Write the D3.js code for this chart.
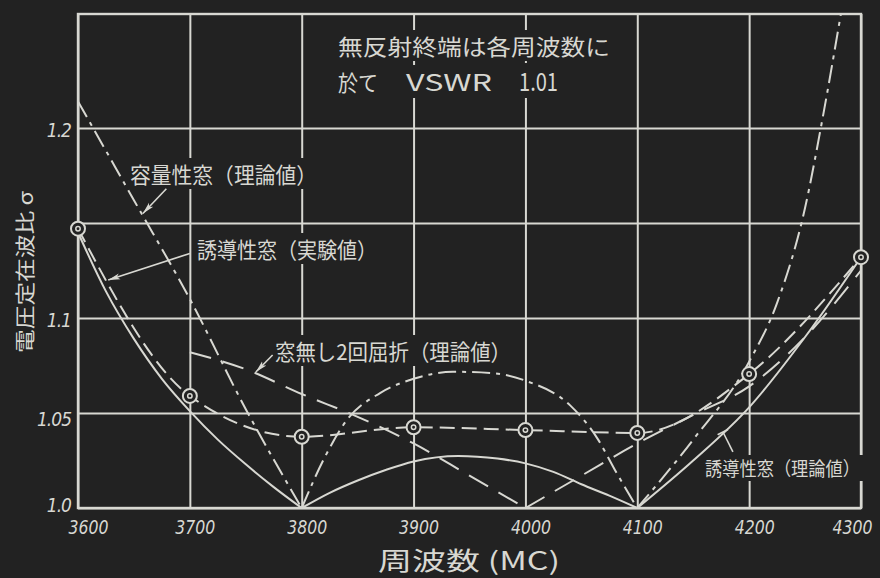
<!DOCTYPE html>
<html>
<head>
<meta charset="utf-8">
<script src="https://cdn.jsdelivr.net/npm/d3@7"></script>
<style>
  html, body { margin: 0; padding: 0; background: #222; }
  svg { display: block; }
</style>
</head>
<body>
<svg id="chart" width="880" height="578"></svg>
<script>
// ---- axes ----
const freqTicks = [3600, 3700, 3800, 3900, 4000, 4100, 4200, 4300];
const vswrGrid = [1.0, 1.05, 1.1, 1.15, 1.2];
const vswrLabels = { 1.0: "1.0", 1.05: "1.05", 1.1: "1.1", 1.2: "1.2" };

// ---- 誘導性窓 (実験値): measured points ----
const measuredFreq = [3600, 3700, 3800, 3900, 4000, 4100, 4200, 4300];
const measuredVswr = [1.147, 1.059, 1.0375, 1.0425, 1.041, 1.0395, 1.0705, 1.132];

// ---- 誘導性窓 (理論値) ----
const inductiveFreq = [3600, 3625, 3650, 3675, 3700, 3725, 3750, 3775, 3800,
  3825, 3850, 3875, 3900, 3940, 3975, 4000, 4025, 4050, 4075, 4100,
  4150, 4200, 4250, 4300];
const inductiveVswr = [1.145, 1.114, 1.089, 1.068, 1.051, 1.036, 1.023, 1.011, 1.0,
  1.008, 1.0145, 1.02, 1.0245, 1.0274, 1.026, 1.0235, 1.019, 1.0125, 1.0065, 1.0,
  1.025, 1.053, 1.09, 1.132];

// ---- 容量性窓 (理論値) ----
const capacitiveFreq = [3600, 3650, 3700, 3750, 3800,
  3820, 3840, 3870, 3900, 3935, 3970, 4000, 4040, 4065, 4080, 4100,
  4150, 4200, 4225, 4250, 4265, 4282];
const capacitiveVswr = [1.214, 1.162, 1.11, 1.052, 1.0,
  1.026, 1.046, 1.0605, 1.068, 1.0717, 1.071, 1.067, 1.054, 1.036, 1.02, 1.0,
  1.036, 1.077, 1.108, 1.158, 1.203, 1.26];

// ---- 窓無し2回屈折 (理論値) ----
const twoBendFreq = [3700, 3750, 3800, 3850, 3900, 3950, 4000, 4050, 4100, 4150, 4200, 4250, 4300];
const twoBendVswr = [1.082, 1.073, 1.06, 1.048, 1.034, 1.017, 1.0, 1.017, 1.034, 1.049, 1.064, 1.09, 1.125];

const W = 880, H = 578;
const ink = "#d8d8d2", bg = "#222222";
const jp = "'Noto Sans CJK JP', 'Noto Sans', sans-serif";
const num = "'DejaVu Sans Condensed', 'DejaVu Sans', sans-serif";

const x = d3.scaleLinear().domain([3600, 4300]).range([78, 861]);
const y = d3.scaleLinear().domain([1.0, 1.26]).range([508, 14]);

const svg = d3.select("#chart");
svg.append("rect").attr("width", W).attr("height", H).attr("fill", bg);

svg.append("defs").append("clipPath").attr("id", "plot")
  .append("rect").attr("x", x(3600)).attr("y", y(1.26))
  .attr("width", x(4300) - x(3600)).attr("height", y(1.0) - y(1.26));

// arrowhead and end bar for the label leaders
svg.select("defs").append("marker")
  .attr("id", "arrow").attr("viewBox", "0 0 12 8").attr("refX", 12).attr("refY", 4)
  .attr("markerWidth", 12).attr("markerHeight", 8).attr("markerUnits", "userSpaceOnUse")
  .attr("orient", "auto")
  .append("path").attr("d", "M0,1 L12,4 L0,7 L3,4 Z").attr("fill", ink);
svg.select("defs").append("marker")
  .attr("id", "bar").attr("viewBox", "0 0 4 12").attr("refX", 2).attr("refY", 6)
  .attr("markerWidth", 4).attr("markerHeight", 12).attr("markerUnits", "userSpaceOnUse")
  .attr("orient", "auto")
  .append("path").attr("d", "M2,0 L2,12").attr("stroke", ink).attr("stroke-width", 1.6);

// ---- grid via axes ----
const plotH = y(1.0) - y(1.26);
const plotW = x(4300) - x(3600);

const xAxis = svg.append("g").attr("transform", `translate(0,${y(1.0)})`)
  .call(d3.axisBottom(x).tickValues(freqTicks).tickSize(-plotH).tickPadding(15)
    .tickFormat(d3.format("d")));
xAxis.select(".domain").remove();
xAxis.selectAll("line").attr("stroke", ink).attr("stroke-width", 2);
xAxis.selectAll("text")
  .attr("fill", ink).attr("font-family", num).attr("font-style", "italic")
  .attr("font-size", 20).attr("dy", "0.55em")
  .attr("dx", d => d === 3600 ? 10 : d === 4300 ? -9 : 5)
  .attr("textLength", 40).attr("lengthAdjust", "spacingAndGlyphs");

const yAxis = svg.append("g").attr("transform", `translate(${x(3600)},0)`)
  .call(d3.axisLeft(y).tickValues(vswrGrid).tickSize(-plotW).tickPadding(7)
    .tickFormat(d => vswrLabels[d] || ""));
yAxis.select(".domain").remove();
yAxis.selectAll("line").attr("stroke", ink).attr("stroke-width", 2);
yAxis.selectAll("text")
  .attr("fill", ink).attr("font-family", num).attr("font-style", "italic")
  .attr("font-size", 19).attr("letter-spacing", -1)
  .attr("dy", d => d === 1.0 ? "0.2em" : d === 1.05 ? "0.65em" : "0.45em");

// outer frame
svg.append("rect").attr("x", x(3600)).attr("y", y(1.26))
  .attr("width", plotW).attr("height", plotH)
  .attr("fill", "none").attr("stroke", ink).attr("stroke-width", 2.4);

// ---- labels (grid knocked out behind them) ----
const labels = [
  { text: "容量性窓（理論値）", x: 130, y: 183, size: 22, len: 187 },
  { text: "誘導性窓（実験値）", x: 197, y: 258, size: 22, len: 180 },
  { text: "窓無し2回屈折（理論値）", x: 275, y: 360, size: 22, len: 236 },
  { text: "誘導性窓（理論値）", x: 705, y: 476, size: 19, len: 155 },
  { text: "無反射終端は各周波数に", x: 338, y: 55, size: 22, len: 272 },
  { text: "於て", x: 338, y: 91, size: 22, len: 40 },
  { text: "VSWR", x: 406, y: 91, size: 23, len: 86 },
  { text: "1.01", x: 519, y: 91, size: 25, len: 39 }
];
const maskLayer = svg.append("g");
const curveLayer = svg.append("g").attr("clip-path", "url(#plot)");
const textLayer = svg.append("g");

labels.forEach(l => {
  const t = textLayer.append("text")
    .attr("x", l.x).attr("y", l.y)
    .attr("font-family", jp).attr("font-size", l.size).attr("fill", ink)
    .attr("textLength", l.len).attr("lengthAdjust", "spacingAndGlyphs")
    .text(l.text);
  const b = t.node().getBBox();
  maskLayer.append("rect")
    .attr("x", b.x - 3).attr("y", b.y + 1).attr("width", b.width + 6).attr("height", b.height - 1)
    .attr("fill", bg);
});

// ---- curves ----
function pairs(fs, vs) { return fs.map((f, i) => [f, vs[i]]); }
// split a series at its interior minima (σ = 1.0) so the cusps stay sharp
function branches(pts) {
  const out = [];
  let cur = [pts[0]];
  for (let i = 1; i < pts.length; i++) {
    cur.push(pts[i]);
    if (pts[i][1] <= 1.0001 && i < pts.length - 1) { out.push(cur); cur = [pts[i]]; }
  }
  out.push(cur);
  return out;
}
const line = d3.line().x(d => x(d[0])).y(d => y(d[1])).curve(d3.curveMonotoneX);

const series = [
  { pts: pairs(inductiveFreq, inductiveVswr), dash: null },
  { pts: pairs(capacitiveFreq, capacitiveVswr), dash: "18,6,4,6" },
  { pts: pairs(twoBendFreq, twoBendVswr), dash: "22,12" },
  { pts: pairs(measuredFreq, measuredVswr), dash: "15,7" }
];
series.forEach(s => {
  branches(s.pts).forEach(seg => {
    curveLayer.append("path").attr("d", line(seg))
      .attr("fill", "none").attr("stroke", ink).attr("stroke-width", 2)
      .attr("stroke-dasharray", s.dash);
  });
});

// ---- leaders from labels to curves ----
const leaders = [
  { from: [3679, 1.168], to: [3658, 1.155], mark: "arrow" },
  { from: [3700, 1.134], to: [3627, 1.12], mark: "arrow" },
  { from: [3774, 1.0805], to: [3759, 1.0716], mark: "arrow" },
  { from: [4185.5, 1.0295], to: [4176.6, 1.04], mark: "bar" }
];
leaders.forEach(l => {
  svg.append("line")
    .attr("x1", x(l.from[0])).attr("y1", y(l.from[1]))
    .attr("x2", x(l.to[0])).attr("y2", y(l.to[1]))
    .attr("stroke", ink).attr("stroke-width", 1.6)
    .attr("marker-end", `url(#${l.mark})`);
});

// ---- measured markers ◎ ----
const marks = svg.append("g");
measuredFreq.forEach((f, i) => {
  const cx = x(f), cy = y(measuredVswr[i]);
  marks.append("circle").attr("cx", cx).attr("cy", cy).attr("r", 7)
    .attr("fill", bg).attr("stroke", ink).attr("stroke-width", 2);
  marks.append("circle").attr("cx", cx).attr("cy", cy).attr("r", 2.2)
    .attr("fill", "none").attr("stroke", ink).attr("stroke-width", 1.5);
});

// ---- axis titles ----
svg.append("text")
  .attr("x", 378).attr("y", 570)
  .attr("font-family", jp).attr("font-size", 25).attr("fill", ink)
  .attr("textLength", 182).attr("lengthAdjust", "spacingAndGlyphs")
  .text("周波数 (MC)");

svg.append("text")
  .attr("transform", "translate(33,353) rotate(-90)")
  .attr("font-family", jp).attr("font-size", 20).attr("fill", ink)
  .attr("textLength", 162).attr("lengthAdjust", "spacingAndGlyphs")
  .text("電圧定在波比 σ");
</script>
</body>
</html>
